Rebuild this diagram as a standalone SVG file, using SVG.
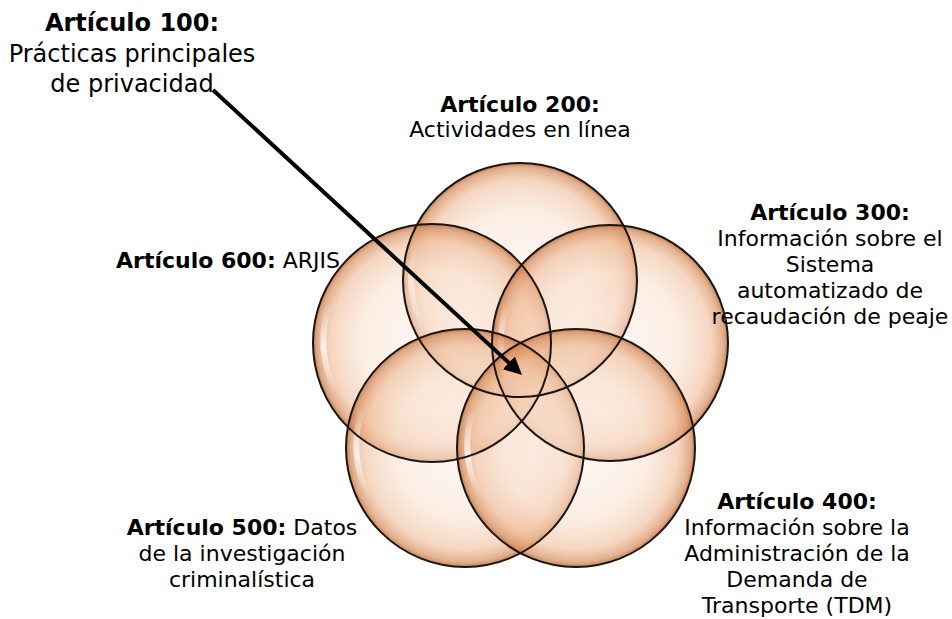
<svg xmlns="http://www.w3.org/2000/svg" width="952" height="619" viewBox="0 0 952 619">
<style>
.t{font-family:"DejaVu Sans","Open Sans",sans-serif;font-size:22px;fill:#000;text-anchor:middle}
.b{font-weight:bold}
.big{font-size:24px}
.c{fill:url(#bub);stroke:none}
.o{fill:none;stroke:#1c1410;stroke-width:2}
.hl{fill:none;stroke:url(#shine);stroke-width:6;stroke-linecap:round}
</style>
<defs>
<radialGradient id="bub" cx="0.5" cy="0.5" r="0.5">
<stop offset="0" stop-color="#fdf1eb" stop-opacity="0.5"/>
<stop offset="0.6" stop-color="#f8dcc8" stop-opacity="0.5"/>
<stop offset="0.85" stop-color="#eeb690" stop-opacity="0.55"/>
<stop offset="0.96" stop-color="#d68d5c" stop-opacity="0.7"/>
<stop offset="1" stop-color="#b8703f" stop-opacity="0.85"/>
</radialGradient>
<linearGradient id="shine" x1="0" y1="0" x2="0" y2="1">
<stop offset="0" stop-color="#fff" stop-opacity="0"/>
<stop offset="0.5" stop-color="#fff" stop-opacity="0.75"/>
<stop offset="1" stop-color="#fff" stop-opacity="0"/>
</linearGradient>
<marker id="ah" markerWidth="5" markerHeight="5" refX="2" refY="2.2" orient="auto" markerUnits="strokeWidth">
<path d="M0,0 L4.5,2.2 L0,4.4 Z" fill="#000"/>
</marker>
</defs>
<g id="art200">
<circle class="c" cx="520" cy="280" r="117"/>
<path class="hl" d="M418,240 A105,105 0 0 0 425,330"/>
<text class="t b" x="520" y="112">Artículo 200:</text>
<text class="t" x="520" y="137">Actividades en línea</text>
</g>
<g id="art600">
<circle class="c" cx="432" cy="343" r="119"/>
<path class="hl" d="M330,303 A107,107 0 0 0 337,393"/>
<text class="t" x="340" y="268" style="text-anchor:end"><tspan class="b">Artículo 600:</tspan> ARJIS</text>
</g>
<g id="art300">
<circle class="c" cx="610" cy="343" r="118"/>
<path class="hl" d="M508,303 A106,106 0 0 0 515,393"/>
<text class="t b" x="830" y="220">Artículo 300:</text>
<text class="t" x="830" y="246">Información sobre el</text>
<text class="t" x="830" y="272">Sistema</text>
<text class="t" x="830" y="298">automatizado de</text>
<text class="t" x="830" y="324">recaudación de peaje</text>
</g>
<g id="art500">
<circle class="c" cx="465" cy="448" r="119"/>
<path class="hl" d="M363,408 A107,107 0 0 0 370,498"/>
<text class="t" x="242" y="535"><tspan class="b">Artículo 500:</tspan> Datos</text>
<text class="t" x="242" y="561">de la investigación</text>
<text class="t" x="242" y="587">criminalística</text>
</g>
<g id="art400">
<circle class="c" cx="576" cy="448" r="119"/>
<path class="hl" d="M474,408 A107,107 0 0 0 481,498"/>
<text class="t b" x="797" y="509">Artículo 400:</text>
<text class="t" x="797" y="535">Información sobre la</text>
<text class="t" x="797" y="561">Administración de la</text>
<text class="t" x="797" y="587">Demanda de</text>
<text class="t" x="797" y="613">Transporte (TDM)</text>
</g>
<g id="outlines">
<circle class="o" cx="520" cy="280" r="117"/>
<circle class="o" cx="432" cy="343" r="119"/>
<circle class="o" cx="610" cy="343" r="118"/>
<circle class="o" cx="465" cy="448" r="119"/>
<circle class="o" cx="576" cy="448" r="119"/>
</g>
<g id="art100">
<text class="t big b" x="132" y="31">Artículo 100:</text>
<text class="t big" x="132" y="62">Prácticas principales</text>
<text class="t big" x="132" y="92">de privacidad</text>
</g>
<g id="connectors">
<line x1="213" y1="90" x2="514.7" y2="368.2" stroke="#000" stroke-width="4" marker-end="url(#ah)"/>
</g>
</svg>
